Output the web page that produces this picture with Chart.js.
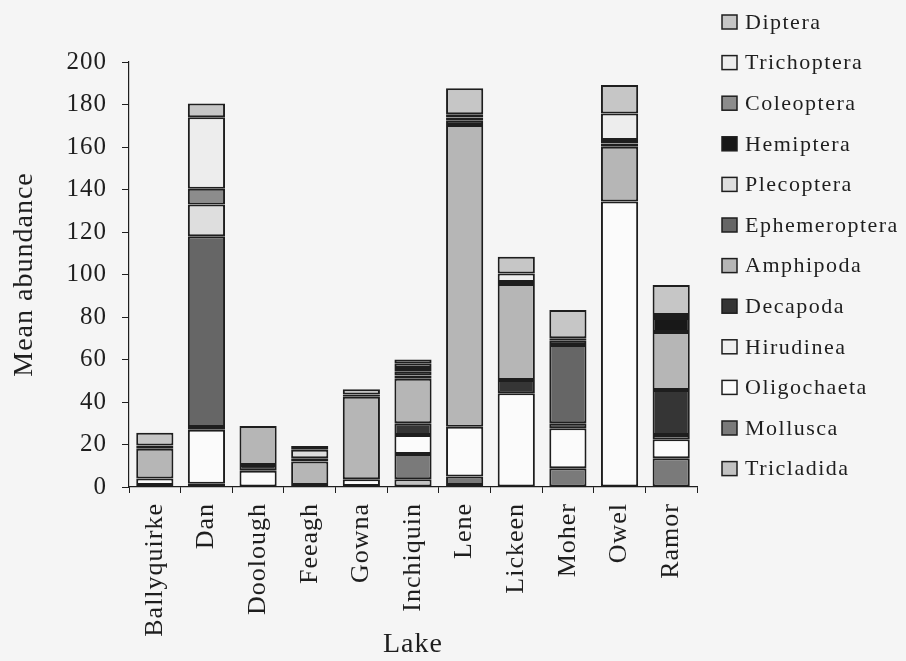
<!DOCTYPE html>
<html>
<head>
<meta charset="utf-8">
<script src="https://cdn.jsdelivr.net/npm/chart.js@4/dist/chart.umd.min.js"></script>
<style>
  html, body { margin: 0; padding: 0; background: #f5f5f5; }
  canvas { display: block; }
</style>
</head>
<body>
<canvas id="c" width="906" height="661"></canvas>
<script>
// Categories (lakes)
const lakes = ["Ballyquirke", "Dan", "Doolough", "Feeagh", "Gowna", "Inchiquin", "Lene", "Lickeen", "Moher", "Owel", "Ramor"];

// Series values (mean abundance), stacked bottom -> top
const tricladida    = [1.0, 1.5, 0,    1.0, 0.5,  3.6,  1.0,   0,    0,    0,     0];
const mollusca      = [0,   0,   0,    0,   0,    11.9, 3.9,   0,    8.8,  0,     13.5];
const oligochaeta   = [3.0, 25.5,7.7,  0,   3.1,  9.0,  23.5,  44.1, 18.8, 134.3, 9.0];
const hirudinea     = [0,   0,   0,    0,   0,    0,    0,     0,    0,    0,     2.0];
const decapoda      = [0,   1.2, 2.7,  0,   0,    5.5,  0,     6.3,  2.4,  0,     21.1];
const amphipoda     = [14.0,0,   18.3, 11.0,38.9, 21.0, 142.0, 45.1, 0,    25.8,  27.4];
const ephemeroptera = [0,   89.8,0,    1.5, 0,    1.5,  0,     0,    36.8, 0,     0];
const plecoptera    = [0,   15.0,0,    4.0, 0,    0,    0,     0,    0,    0,     0];
const hemiptera     = [1.5, 0,   0,    1.8, 1.0,  2.0,  2.0,   1.0,  2.0,  1.6,   6.5];
const coleoptera    = [0,   7.4, 0,    0,   0,    1.5,  1.5,   0,    0,    1.6,   0];
const trichoptera   = [0,   33.6,0,    0,   0,    2.0,  1.5,   4.0,  1.2,  12.5,  1.4];
const diptera       = [6.0, 6.5, 0,    0,   2.5,  2.0,  12.2,  7.9,  13.3, 13.4,  14.2];

// Axis ticks
const yTicks = [0, 20, 40, 60, 80, 100, 120, 140, 160, 180, 200];

const seriesNames = ["Tricladida", "Mollusca", "Oligochaeta", "Hirudinea", "Decapoda", "Amphipoda",
                     "Ephemeroptera", "Plecoptera", "Hemiptera", "Coleoptera", "Trichoptera", "Diptera"];
const seriesValues = [tricladida, mollusca, oligochaeta, hirudinea, decapoda, amphipoda,
                      ephemeroptera, plecoptera, hemiptera, coleoptera, trichoptera, diptera];
const seriesColors = ["#c2c2c2", "#7a7a7a", "#fbfbfb", "#efefef", "#353535", "#b6b6b6",
                      "#666666", "#dedede", "#181818", "#8c8c8c", "#ededed", "#c6c6c6"];

const INK = "#1e1e1e";
const FONT = "'Liberation Serif', 'DejaVu Serif', serif";

const datasets = seriesNames.map((name, i) => ({
  label: name,
  data: seriesValues[i],
  backgroundColor: seriesColors[i],
  borderColor: INK,
  borderWidth: 2,
  borderSkipped: false,
  categoryPercentage: 1.0,
  barPercentage: 0.72
}));

const spacingPlugin = {
  id: 'spacing',
  beforeDraw(chart) {
    const ctx = chart.ctx;
    ctx.fillStyle = '#f5f5f5';
    ctx.fillRect(0, 0, chart.width, chart.height);
    try { ctx.letterSpacing = '1px'; } catch (e) {}
  }
};

const legendPlugin = {
  id: 'customLegend',
  afterDraw(chart) {
    const ctx = chart.ctx;
    ctx.save();
    try { ctx.letterSpacing = '1.5px'; } catch (e) {}
    ctx.font = "22px " + FONT;
    ctx.textBaseline = 'middle';
    ctx.textAlign = 'left';
    const ds = chart.data.datasets.slice().reverse();
    ds.forEach((d, k) => {
      const cy = 22 + 40.6 * k;
      ctx.fillStyle = d.backgroundColor;
      ctx.fillRect(722, cy - 7, 15, 14);
      ctx.strokeStyle = INK;
      ctx.lineWidth = 1.5;
      ctx.strokeRect(722, cy - 7, 15, 14);
      ctx.fillStyle = INK;
      ctx.fillText(d.label, 745, cy + 1);
    });
    ctx.restore();
  }
};

new Chart(document.getElementById('c'), {
  type: 'bar',
  data: { labels: lakes, datasets },
  options: {
    responsive: false,
    animation: false,
    layout: { padding: { top: 62, right: 209, bottom: 0, left: 0 } },
    plugins: {
      legend: { display: false },
      tooltip: { enabled: false }
    },
    scales: {
      x: {
        stacked: true,
        grid: { display: true, drawOnChartArea: false, drawTicks: true, tickLength: 6, color: INK, lineWidth: 1, offset: true },
        border: { display: true, color: INK, width: 1.2 },
        ticks: {
          color: INK, font: { family: FONT, size: 26 },
          minRotation: 90, maxRotation: 90, autoSkip: false, padding: 10
        },
        title: { display: true, text: 'Lake', color: INK, font: { family: FONT, size: 28 }, padding: { top: 0, bottom: 0 } },
        afterFit(scale) { scale.height = 174; }
      },
      y: {
        stacked: true,
        min: 0, max: 200,
        afterBuildTicks(scale) { scale.ticks = yTicks.map(v => ({ value: v })); },
        grid: { display: true, drawOnChartArea: false, drawTicks: true, tickLength: 7, color: INK, lineWidth: 1 },
        border: { display: true, color: INK, width: 1.2 },
        ticks: { color: INK, font: { family: FONT, size: 25 }, padding: 15 },
        title: { display: true, text: 'Mean abundance', color: INK, font: { family: FONT, size: 28 }, padding: { top: 8, bottom: 0 } },
        afterFit(scale) { scale.width = 129; }
      }
    }
  },
  plugins: [spacingPlugin, legendPlugin]
});
</script>
</body>
</html>
